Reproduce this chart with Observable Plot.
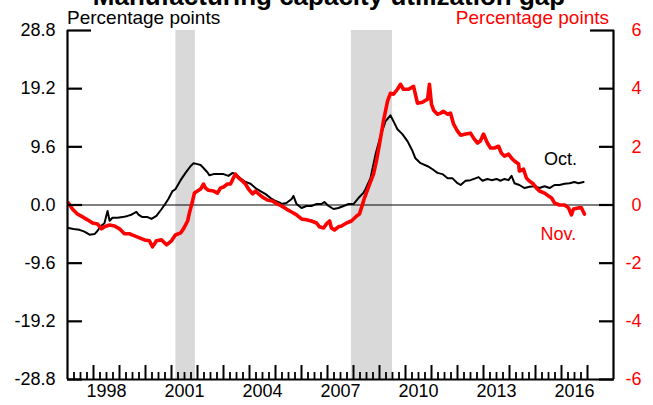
<!DOCTYPE html>
<html>
<head>
<meta charset="utf-8">
<script src="https://cdn.jsdelivr.net/npm/d3@7"></script>
<script src="https://cdn.jsdelivr.net/npm/@observablehq/plot@0.6"></script>
<style>
  html, body { margin: 0; padding: 0; background: #fff; }
  #wrap { position: relative; width: 653px; height: 405px; overflow: hidden; font-family: "Liberation Sans", Arial, sans-serif; }
  .lab { position: absolute; white-space: nowrap; line-height: 1; }
  #title { left: 0; width: 658px; text-align: center; top: -17px; font-size: 26px; font-weight: bold; }
  #lunit { left: 67px; top: 8px; font-size: 19px; color: #000; }
  #runit { right: 44px; top: 8px; font-size: 19px; color: #ff0000; }
  #chart { position: absolute; left: 0; top: 0; }
</style>
</head>
<body>
<div id="wrap">
  <div id="chart"></div>
  <div class="lab" id="title">Manufacturing capacity utilization gap</div>
  <div class="lab" id="lunit">Percentage points</div>
  <div class="lab" id="runit">Percentage points</div>
</div>
<script>
// ---- data ----
const octYears = [1997.04,1997.23,1997.46,1997.65,1997.85,1998.04,1998.15,1998.27,1998.42,1998.54,1998.62,1998.73,1998.92,1999.12,1999.31,1999.46,1999.65,1999.73,1999.88,2000.08,2000.23,2000.42,2000.62,2000.73,2000.88,2001.04,2001.15,2001.35,2001.54,2001.73,2001.85,2002.0,2002.12,2002.23,2002.38,2002.46,2002.62,2002.81,2003.0,2003.19,2003.35,2003.46,2003.65,2003.85,2004.04,2004.23,2004.42,2004.62,2004.81,2005.0,2005.19,2005.23,2005.42,2005.62,2005.69,2005.81,2006.0,2006.19,2006.38,2006.58,2006.77,2006.88,2007.04,2007.23,2007.42,2007.62,2007.81,2008.0,2008.19,2008.38,2008.46,2008.65,2008.85,2009.04,2009.23,2009.42,2009.54,2009.69,2009.88,2010.08,2010.27,2010.38,2010.58,2010.85,2011.04,2011.23,2011.42,2011.62,2011.81,2012.0,2012.12,2012.31,2012.5,2012.69,2012.81,2012.96,2013.15,2013.31,2013.5,2013.65,2013.81,2013.96,2014.08,2014.19,2014.38,2014.58,2014.77,2014.96,2015.15,2015.35,2015.54,2015.73,2015.92,2016.12,2016.31,2016.5,2016.65,2016.85];
const octValues = [-3.8,-3.95,-4.1,-4.4,-4.9,-4.8,-4.3,-3.5,-3.0,-1.0,-2.6,-2.1,-2.1,-2.0,-1.8,-1.6,-1.15,-1.6,-2.0,-2.0,-2.3,-1.8,-0.66,0,1.0,2.3,2.6,4.1,5.3,6.4,6.9,6.75,6.6,6.1,5.4,4.9,5.1,5.1,5.1,4.8,5.3,5.1,4.4,3.8,3.5,2.8,2.3,1.8,1.15,0.66,0.33,0.16,0.33,1.0,1.5,0.16,-0.5,-0.16,-0.16,0.16,0.16,0.5,-0.16,-0.66,-0.5,-0.16,0.16,0.16,1.15,2.0,2.6,4.4,8.4,11.4,13.8,14.8,13.8,12.5,11.7,10.5,8.9,7.7,6.9,6.4,5.9,5.3,5.1,4.4,4.4,3.6,3.3,4.0,4.1,4.4,4.6,4.0,4.3,4.1,4.3,4.0,4.3,4.1,4.8,3.6,3.3,2.8,3.0,3.1,2.8,3.1,2.8,3.3,3.3,3.5,3.6,3.8,3.6,3.8];

const novYears = [1997.04,1997.19,1997.38,1997.58,1997.77,1997.96,1998.15,1998.31,1998.42,1998.62,1998.81,1999.0,1999.19,1999.38,1999.58,1999.77,1999.96,2000.15,2000.27,2000.42,2000.62,2000.81,2001.0,2001.15,2001.35,2001.46,2001.62,2001.69,2001.81,2001.88,2002.0,2002.12,2002.23,2002.31,2002.42,2002.62,2002.77,2002.88,2003.0,2003.15,2003.27,2003.38,2003.46,2003.58,2003.73,2003.85,2003.96,2004.12,2004.23,2004.35,2004.5,2004.69,2004.88,2005.08,2005.23,2005.42,2005.62,2005.81,2006.0,2006.19,2006.38,2006.58,2006.69,2006.85,2006.96,2007.08,2007.15,2007.27,2007.42,2007.54,2007.73,2007.92,2008.12,2008.23,2008.35,2008.42,2008.62,2008.77,2008.88,2009.0,2009.15,2009.31,2009.42,2009.54,2009.69,2009.81,2009.92,2010.12,2010.31,2010.46,2010.65,2010.85,2010.92,2011.0,2011.08,2011.23,2011.35,2011.46,2011.62,2011.73,2011.85,2012.0,2012.12,2012.31,2012.5,2012.62,2012.77,2012.88,2013.0,2013.15,2013.27,2013.42,2013.58,2013.69,2013.81,2013.96,2014.08,2014.19,2014.35,2014.38,2014.54,2014.65,2014.77,2014.92,2015.04,2015.15,2015.35,2015.5,2015.62,2015.73,2015.92,2016.12,2016.27,2016.38,2016.46,2016.65,2016.77,2016.88];
const novValues = [0.07,-0.14,-0.31,-0.41,-0.51,-0.62,-0.65,-0.82,-0.75,-0.69,-0.72,-0.82,-0.99,-0.99,-1.06,-1.13,-1.2,-1.23,-1.44,-1.23,-1.2,-1.37,-1.23,-1.03,-0.96,-0.82,-0.55,-0.27,0.14,0.41,0.48,0.55,0.72,0.58,0.51,0.48,0.41,0.58,0.62,0.72,0.72,0.93,1.06,0.93,0.82,0.72,0.55,0.38,0.48,0.38,0.27,0.17,0.14,0.03,-0.03,-0.14,-0.24,-0.34,-0.48,-0.51,-0.55,-0.62,-0.75,-0.79,-0.65,-0.55,-0.79,-0.86,-0.75,-0.72,-0.62,-0.55,-0.38,-0.31,0.03,0.24,0.72,1.06,1.51,2.09,2.88,3.57,3.84,3.81,3.98,4.15,3.98,3.98,4.08,3.5,3.53,3.64,4.15,3.46,3.26,3.12,3.16,3.22,3.12,3.16,2.78,2.54,2.4,2.44,2.47,2.3,2.13,2.2,2.44,2.13,1.96,1.96,2.02,1.78,1.68,1.75,1.61,1.51,1.41,1.17,1.23,0.93,0.82,0.72,0.58,0.48,0.41,0.31,0.24,0.07,0,0,-0.1,-0.34,-0.14,-0.1,-0.1,-0.31];

const recessionStart = [2001.17, 2007.92];
const recessionEnd   = [2001.92, 2009.50];

const leftTicks  = [-28.8, -19.2, -9.6, 0, 9.6, 19.2, 28.8];
const rightTicks = [-6, -4, -2, 0, 2, 4, 6];
const yearLabels = [1998, 2001, 2004, 2007, 2010, 2013, 2016];
const majorYears = d3.range(1998, 2018);
const minorQuarters = d3.range(1997, 2017).flatMap(y => [y + 0.25, y + 0.5, y + 0.75]);
const xDomain = [1997, 2018];
const seriesLabels = ["Oct.", "Nov."];
const ratio = 28.8 / 6;

// ---- build ----
const oct = octYears.map((t, i) => ({t, v: octValues[i]}));
const nov = novYears.map((t, i) => ({t, v: novValues[i]}));
const rec = recessionStart.map((s, i) => ({s, e: recessionEnd[i]}));
const FONT = "Liberation Sans, Arial, sans-serif";
const RED = "#ff0000";

const chart = Plot.plot({
  width: 653,
  height: 405,
  marginLeft: 67,
  marginRight: 40,
  marginTop: 30,
  marginBottom: 26,
  style: {fontFamily: FONT, fontSize: "18px", background: "transparent", overflow: "visible"},
  x: {domain: xDomain, axis: null},
  y: {domain: [-28.8, 28.8], axis: null},
  marks: [
    Plot.rect(rec, {x1: "s", x2: "e", fill: "#d9d9d9"}),
    Plot.ruleY([0], {stroke: "#000", strokeWidth: 1}),
    Plot.line(oct, {x: "t", y: "v", stroke: "#000", strokeWidth: 2, strokeLinejoin: "round"}),
    Plot.line(nov, {x: "t", y: d => d.v * ratio, stroke: RED, strokeWidth: 3.6, strokeLinejoin: "round"}),
    // frame lines
    Plot.ruleX([xDomain[0]], {stroke: "#000", strokeWidth: 2.2}),
    Plot.ruleX([xDomain[1]], {stroke: "#000", strokeWidth: 2.2}),
    Plot.ruleY([leftTicks[0]], {stroke: "#000", strokeWidth: 2.2}),
    // left axis
    Plot.axisY(leftTicks.slice(0, -1), {anchor: "left", label: null, tickSize: -15, tickPadding: 27, strokeWidth: 2.2, fontSize: 18, tickFormat: d => d.toFixed(1), fill: "#000"}),
    Plot.axisY([leftTicks[6]], {anchor: "left", label: null, tickSize: -24, tickPadding: 36, strokeWidth: 2.2, fontSize: 18, tickFormat: d => d.toFixed(1), fill: "#000"}),
    // right axis
    Plot.axisY(rightTicks.slice(0, -1).map(d => d * ratio), {anchor: "right", label: null, tickSize: -15, tickPadding: 43, textAnchor: "end", strokeWidth: 2.2, fontSize: 18, fill: RED, tickFormat: d => String(Math.round(d / ratio))}),
    Plot.axisY([rightTicks[6] * ratio], {anchor: "right", label: null, tickSize: -24, tickPadding: 52, textAnchor: "end", strokeWidth: 2.2, fontSize: 18, fill: RED, tickFormat: d => String(Math.round(d / ratio))}),
    // bottom axis
    Plot.axisX(majorYears, {anchor: "bottom", label: null, tickSize: -14, strokeWidth: 2, tickFormat: null, text: null}),
    Plot.axisX(minorQuarters, {anchor: "bottom", label: null, tickSize: -7, strokeWidth: 1.8, tickFormat: null, text: null}),
    Plot.axisX(yearLabels.map(y => y + 0.5), {anchor: "bottom", label: null, tickSize: 0, tickPadding: 5, fontSize: 18, fill: "#000", tickFormat: d => String(Math.floor(d))}),
    // series labels
    Plot.text([oct[oct.length - 1]], {x: "t", y: "v", text: () => seriesLabels[0], dx: -23, dy: -23, fill: "#000", fontSize: 18, fontFamily: FONT}),
    Plot.text([nov[nov.length - 1]], {x: "t", y: d => d.v * ratio, text: () => seriesLabels[1], dx: -26, dy: 20, fill: RED, fontSize: 18, fontFamily: FONT})
  ]
});
document.getElementById("chart").appendChild(chart);
</script>
</body>
</html>
